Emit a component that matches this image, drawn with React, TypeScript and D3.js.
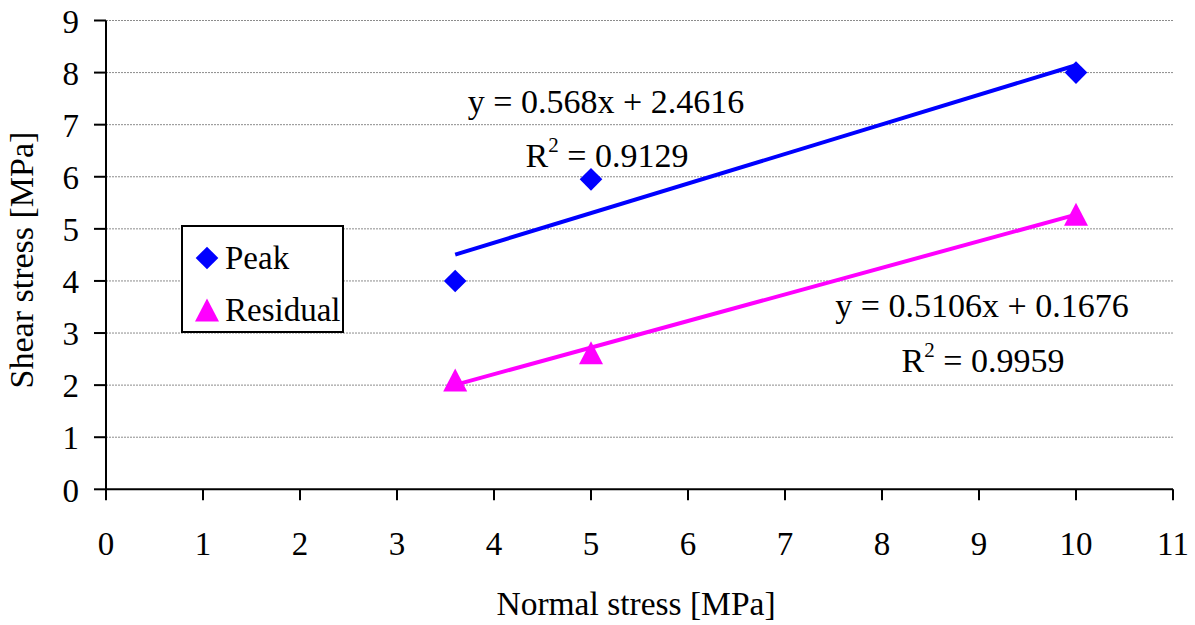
import React from "react";
import * as d3 from "d3";

const peakX = [3.6, 5, 10];
const peakY = [4.0, 5.95, 8.0];
const residualX = [3.6, 5, 10];
const residualY = [2.1, 2.62, 5.28];
const peakFit = { slope: 0.568, intercept: 2.4616, r2: "0.9129", eq: "y = 0.568x + 2.4616" };
const resFit = { slope: 0.5106, intercept: 0.1676, r2: "0.9959", eq: "y = 0.5106x + 0.1676" };
const xTicks = [0, 1, 2, 3, 4, 5, 6, 7, 8, 9, 10, 11];
const yTicks = [0, 1, 2, 3, 4, 5, 6, 7, 8, 9];
const legendLabels = ["Peak", "Residual"];

const FONT = "Liberation Serif";

export default function App() {
  const W = 1195, H = 625;
  const x = d3.scaleLinear().domain([0, 11]).range([106, 1173]);
  const y = d3.scaleLinear().domain([0, 9]).range([489.3, 20.5]);
  const blue = "#0000FF";
  const mag = "#FF00FF";
  const diamond = d3.symbol().type(d3.symbolSquare).size(16 * 16)();
  const tri = (cx: number, cy: number, w = 24, h = 23) =>
    `M${cx},${cy - h / 2}L${cx + w / 2},${cy + h / 2}L${cx - w / 2},${cy + h / 2}Z`;
  const line = d3.line<number>().x((d) => x(d[0])).y((d) => y(d[1]));
  const fitLine = (f: typeof peakFit, xs: number[]) => {
    const x0 = d3.min(xs)!, x1 = d3.max(xs)!;
    return line([[x0, f.slope * x0 + f.intercept], [x1, f.slope * x1 + f.intercept]] as any);
  };
  const ts = { fontFamily: FONT };
  return (
    <svg width={W} height={H} style={{ position: "absolute", left: 0, top: 0, background: "#fff", fontFamily: FONT }}>
      {yTicks.filter((t) => t > 0).map((t) => (
        <line key={"g" + t} x1={x(0)} x2={x(11)} y1={y(t)} y2={y(t)} stroke="#8c8c8c" strokeWidth={1} strokeDasharray="2,1" />
      ))}
      <line x1={x(0)} x2={x(0)} y1={y(9)} y2={y(0)} stroke="#000" strokeWidth={2} />
      <line x1={x(0)} x2={x(11)} y1={y(0)} y2={y(0)} stroke="#000" strokeWidth={2} />
      {yTicks.map((t) => (
        <g key={"yt" + t}>
          <line x1={94} x2={x(0)} y1={y(t)} y2={y(t)} stroke="#000" strokeWidth={2} />
          <text style={ts} x={79} y={y(t)} dy="0.37em" textAnchor="end" fontSize={33}>{t}</text>
        </g>
      ))}
      {xTicks.map((t) => (
        <g key={"xt" + t}>
          <line x1={x(t)} x2={x(t)} y1={y(0)} y2={y(0) + 11} stroke="#000" strokeWidth={2} />
          <text style={ts} x={x(t)} y={555} textAnchor="middle" fontSize={33}>{t}</text>
        </g>
      ))}
      <text style={ts} x={636} y={615} textAnchor="middle" fontSize={33.5}>Normal stress [MPa]</text>
      <text style={ts} transform="translate(33,260) rotate(-90)" textAnchor="middle" fontSize={34}>Shear stress [MPa]</text>
      <path d={fitLine(peakFit, peakX) || ""} stroke={blue} strokeWidth={4} fill="none" />
      <path d={fitLine(resFit, residualX) || ""} stroke={mag} strokeWidth={4} fill="none" />
      {peakX.map((px, i) => (
        <path key={"p" + i} d={diamond} transform={`translate(${x(px)},${y(peakY[i])}) rotate(45)`} fill={blue} />
      ))}
      {residualX.map((rx, i) => (
        <path key={"r" + i} d={tri(x(rx), y(residualY[i]))} fill={mag} />
      ))}
      <text style={ts} x={606} y={113} textAnchor="middle" fontSize={34}>{peakFit.eq}</text>
      <text style={ts} x={607} y={167} textAnchor="middle" fontSize={34}>
        R<tspan fontSize={21} dy={-15}>2</tspan><tspan dy={15}> = {peakFit.r2}</tspan>
      </text>
      <text style={ts} x={982} y={317} textAnchor="middle" fontSize={34}>{resFit.eq}</text>
      <text style={ts} x={983} y={372} textAnchor="middle" fontSize={34}>
        R<tspan fontSize={21} dy={-15}>2</tspan><tspan dy={15}> = {resFit.r2}</tspan>
      </text>
      <rect x={182} y={226} width={161} height={106} fill="#fff" stroke="#000" strokeWidth={2} />
      <path d={diamond} transform="translate(207,258) rotate(45)" fill={blue} />
      <text style={ts} x={225} y={269} fontSize={33}>{legendLabels[0]}</text>
      <path d={tri(207, 310)} fill={mag} />
      <text style={ts} x={225} y={321} fontSize={33}>{legendLabels[1]}</text>
    </svg>
  );
}
